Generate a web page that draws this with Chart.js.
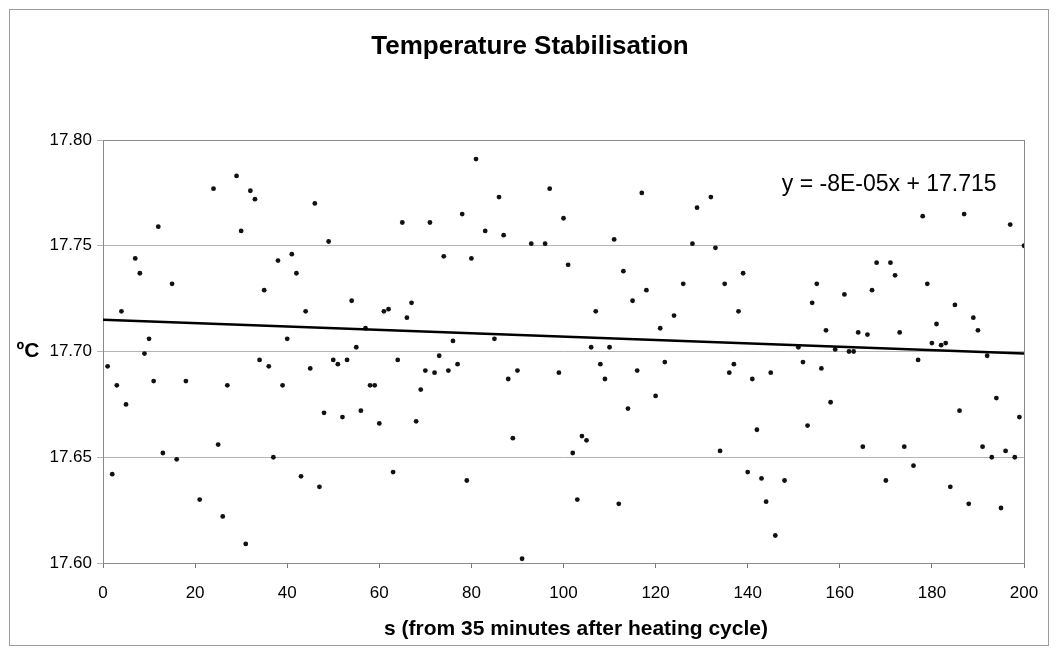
<!DOCTYPE html>
<html>
<head>
<meta charset="utf-8">
<title>Temperature Stabilisation</title>
<script src="https://cdn.jsdelivr.net/npm/chart.js@4.4.1/dist/chart.umd.min.js"></script>
<style>
    html, body { margin: 0; padding: 0; background: #fff; }
    #wrap { width: 1058px; height: 655px; }
</style>
</head>
<body>
<div id="wrap"><canvas id="myChart" width="1058" height="655"></canvas></div>
<script>
// readings, one per second (a few hidden behind others)
const timeS = [
    1, 2, 3, 4, 5, 7, 8, 9, 10, 11, 12, 13, 15, 16, 18, 21, 24, 25, 26, 27,
    29, 30, 31, 32, 33, 34, 35, 36, 37, 38, 39, 40, 41, 42, 43, 44, 45, 46, 47, 48,
    49, 50, 51, 52, 53, 54, 55, 56, 57, 58, 59, 60, 61, 62, 63, 64, 65, 66, 67, 68,
    69, 70, 71, 72, 73, 74, 75, 76, 77, 78, 79, 80, 81, 83, 85, 86, 87, 88, 89, 90,
    91, 93, 96, 97, 99, 100, 101, 102, 103, 104, 105, 106, 107, 108, 109, 110, 111, 112, 113, 114,
    115, 116, 117, 118, 120, 121, 122, 124, 126, 128, 129, 132, 133, 134, 135, 136, 137, 138, 139, 140,
    141, 142, 143, 144, 145, 146, 148, 151, 152, 153, 154, 155, 156, 157, 158, 159, 161, 162, 163, 164,
    165, 166, 167, 168, 170, 171, 172, 173, 174, 176, 177, 178, 179, 180, 181, 182, 183, 184, 185, 186,
    187, 188, 189, 190, 191, 192, 193, 194, 195, 196, 197, 198, 199, 200
];
const tempC = [
    17.693, 17.642, 17.684, 17.719, 17.675, 17.744, 17.737, 17.699, 17.706, 17.686, 17.759, 17.652, 17.732, 17.649, 17.686, 17.630, 17.777, 17.656, 17.622, 17.684,
    17.783, 17.757, 17.609, 17.776, 17.772, 17.696, 17.729, 17.693, 17.650, 17.743, 17.684, 17.706, 17.746, 17.737, 17.641, 17.719, 17.692, 17.770, 17.636, 17.671,
    17.752, 17.696, 17.694, 17.669, 17.696, 17.724, 17.702, 17.672, 17.711, 17.684, 17.684, 17.666, 17.719, 17.720, 17.643, 17.696, 17.761, 17.716, 17.723, 17.667,
    17.682, 17.691, 17.761, 17.690, 17.698, 17.745, 17.691, 17.705, 17.694, 17.765, 17.639, 17.744, 17.791, 17.757, 17.706, 17.773, 17.755, 17.687, 17.659, 17.691,
    17.602, 17.751, 17.751, 17.777, 17.690, 17.763, 17.741, 17.652, 17.630, 17.660, 17.658, 17.702, 17.719, 17.694, 17.687, 17.702, 17.753, 17.628, 17.738, 17.673,
    17.724, 17.691, 17.775, 17.729, 17.679, 17.711, 17.695, 17.717, 17.732, 17.751, 17.768, 17.773, 17.749, 17.653, 17.732, 17.690, 17.694, 17.719, 17.737, 17.643,
    17.687, 17.663, 17.640, 17.629, 17.690, 17.613, 17.639, 17.702, 17.695, 17.665, 17.723, 17.732, 17.692, 17.710, 17.676, 17.701, 17.727, 17.700, 17.700, 17.709,
    17.655, 17.708, 17.729, 17.742, 17.639, 17.742, 17.736, 17.709, 17.655, 17.646, 17.696, 17.764, 17.732, 17.704, 17.713, 17.703, 17.704, 17.636, 17.722, 17.672,
    17.765, 17.628, 17.716, 17.710, 17.655, 17.698, 17.650, 17.678, 17.626, 17.653, 17.760, 17.650, 17.669, 17.750
];

const xTicks = [0, 20, 40, 60, 80, 100, 120, 140, 160, 180, 200];
const yTicks = [17.60, 17.65, 17.70, 17.75, 17.80];

// linear trendline as printed on the chart
const trendSlope = -0.00008;
const trendIntercept = 17.715;
const trendRange = [0, 200];
const trendText = 'y = -8E-05x + 17.715';
const xTitle = 's (from 35 minutes after heating cycle)';

const FONT = "'Liberation Sans', Arial, sans-serif";

const points = timeS.map((t, i) => ({ x: t, y: tempC[i] }));
const trendPoints = trendRange.map(t => ({ x: t, y: trendIntercept + trendSlope * t }));

// frame, plot border, axis titles (Excel places them a bit off-centre) and trendline label
const decorations = {
    id: 'decorations',
    beforeDraw(chart) {
        const ctx = chart.ctx;
        ctx.save();
        ctx.fillStyle = '#fff';
        ctx.fillRect(0, 0, chart.width, chart.height);
        ctx.strokeStyle = '#9c9c9c';
        ctx.lineWidth = 1;
        ctx.strokeRect(9.5, 9.5, chart.width - 19, chart.height - 19);
        ctx.restore();
    },
    beforeDatasetsDraw(chart) {
        const a = chart.chartArea;
        const ctx = chart.ctx;
        ctx.save();
        ctx.strokeStyle = '#8a8a8a';
        ctx.lineWidth = 1;
        ctx.strokeRect(Math.round(a.left) + 0.5, Math.round(a.top) + 0.5,
            Math.round(a.right - a.left), Math.round(a.bottom - a.top));
        ctx.restore();
    },
    afterDraw(chart) {
        const ctx = chart.ctx;
        const xs = chart.scales.x, ys = chart.scales.y;
        ctx.save();
        ctx.fillStyle = '#000';
        ctx.textBaseline = 'middle';
        ctx.textAlign = 'center';
        ctx.font = 'bold 21px ' + FONT;
        ctx.fillText('ºC', 28, ys.getPixelForValue(17.70));
        ctx.fillText(xTitle, 576, 629);
        ctx.textAlign = 'left';
        ctx.font = '23px ' + FONT;
        ctx.fillText(trendText, xs.getPixelForValue(147.4), ys.getPixelForValue(17.7790));
        ctx.restore();
    }
};

let ctx = document.getElementById('myChart').getContext('2d');
let myChart = new Chart(ctx, {
    type: 'scatter',
    data: {
        datasets: [
            {
                label: 'Temperature',
                data: points,
                pointStyle: 'circle',
                pointRadius: 2.4,
                pointBackgroundColor: '#111',
                pointBorderWidth: 0,
                order: 2
            },
            {
                label: 'Linear trend',
                data: trendPoints,
                showLine: true,
                borderColor: '#000',
                borderWidth: 2.5,
                pointRadius: 0,
                order: 1
            }
        ]
    },
    options: {
        responsive: false,
        animation: false,
        // left padding moves the title centre to where Excel put it
        layout: { padding: { left: 36, right: 34, top: 0, bottom: 0 } },
        plugins: {
            legend: { display: false },
            tooltip: { enabled: false },
            title: {
                display: true,
                text: 'Temperature Stabilisation',
                color: '#000',
                font: { family: FONT, size: 26, weight: 'bold', lineHeight: 1.2 },
                padding: { top: 31, bottom: 77.8 }
            }
        },
        scales: {
            x: {
                type: 'linear',
                min: 0,
                max: 200,
                afterBuildTicks: s => { s.ticks = xTicks.map(v => ({ value: v })); },
                afterFit: s => { s.height = 92; },
                grid: { drawOnChartArea: false, drawTicks: true, tickLength: 5, color: '#777' },
                border: { display: false },
                ticks: { color: '#000', padding: 15, maxRotation: 0, font: { family: FONT, size: 17 } }
            },
            y: {
                type: 'linear',
                min: 17.60,
                max: 17.80,
                afterBuildTicks: s => { s.ticks = yTicks.map(v => ({ value: v })); },
                afterFit: s => { s.width = 67; },
                grid: { color: '#b4b4b4', tickLength: 6, drawTicks: true },
                border: { display: false },
                ticks: {
                    color: '#000',
                    padding: 5,
                    font: { family: FONT, size: 17 },
                    callback: v => v.toFixed(2)
                }
            }
        }
    },
    plugins: [decorations]
});
</script>
</body>
</html>
